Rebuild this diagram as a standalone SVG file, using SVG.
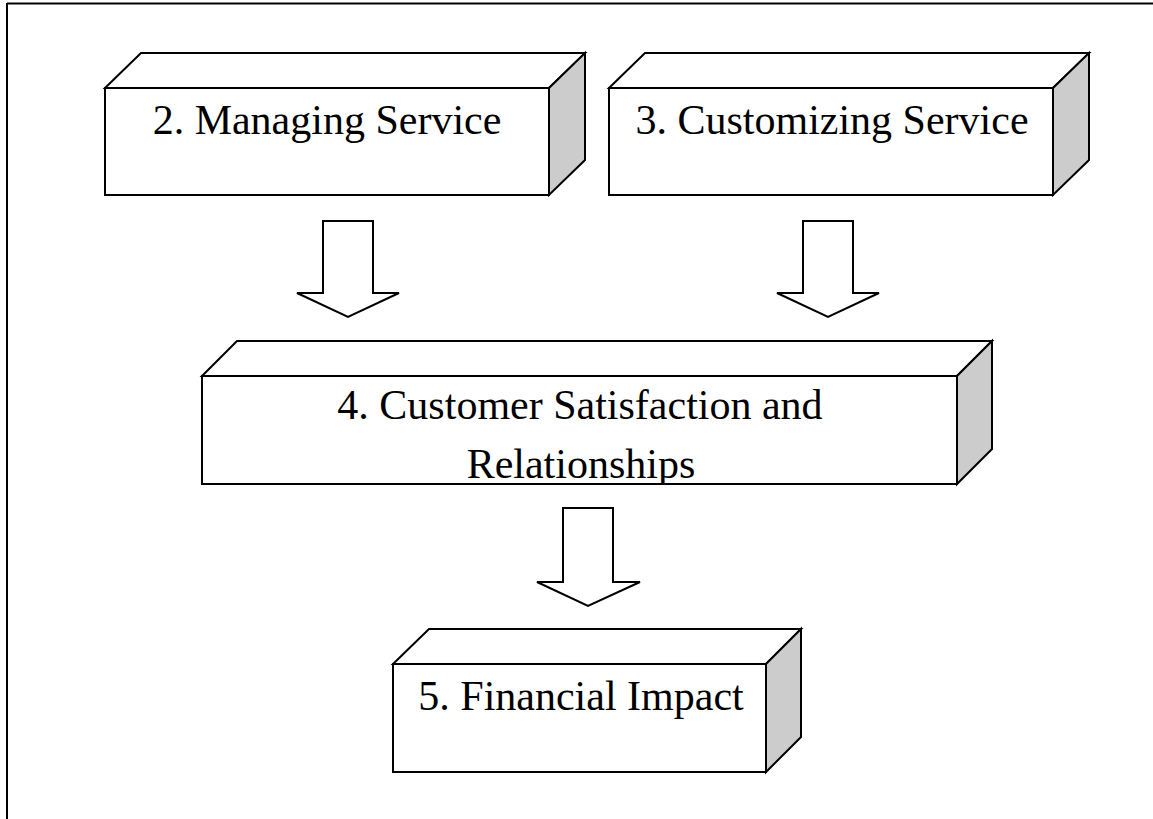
<svg xmlns="http://www.w3.org/2000/svg" width="1153" height="819" viewBox="0 0 1153 819">
<style>
.face{fill:#ffffff;stroke:#000000;stroke-width:2;stroke-linejoin:miter}
.side{fill:#cccccc;stroke:#000000;stroke-width:2;stroke-linejoin:miter}
.arrow{fill:#ffffff;stroke:#000000;stroke-width:2;stroke-linejoin:miter}
.lbl{font-family:"Liberation Serif","Times New Roman",serif;font-size:42px;fill:#000000;text-anchor:middle}
.frame{stroke:#000000;stroke-width:2;fill:none}
</style>
<rect x="0" y="0" width="1153" height="819" fill="#ffffff"/>
<g id="frame">
<line class="frame" x1="7" y1="3.5" x2="1153" y2="3.5" stroke="#333333"/>
<line class="frame" x1="7" y1="3" x2="7" y2="819"/>
</g>
<g id="node2">
<polygon class="face" points="105,88 141,53 585,53 549,88"/>
<polygon class="side" points="549,88 585,53 585,160 549,195"/>
<rect class="face" x="105" y="88" width="444" height="107"/>
<text class="lbl" x="327" y="134">2. Managing Service</text>
</g>
<g id="node3">
<polygon class="face" points="609,88 645,53 1089,53 1053,88"/>
<polygon class="side" points="1053,88 1089,53 1089,160 1053,195"/>
<rect class="face" x="609" y="88" width="444" height="107"/>
<text class="lbl" x="832" y="134">3. Customizing Service</text>
</g>
<g id="node4">
<polygon class="face" points="202,376 237,341 992,341 957,376"/>
<polygon class="side" points="957,376 992,341 992,449 957,484"/>
<rect class="face" x="202" y="376" width="755" height="108"/>
<svg x="202" y="376" width="755" height="108" overflow="hidden">
<text class="lbl" x="378" y="43">4. Customer Satisfaction and</text>
<text class="lbl" x="379" y="102">Relationships</text>
</svg>
<line x1="202" y1="484" x2="957" y2="484" stroke="#000" stroke-width="2"/>
</g>
<g id="node5">
<polygon class="face" points="393,664 429,629 801,629 766,664"/>
<polygon class="side" points="766,664 801,629 801,737 766,772"/>
<rect class="face" x="393" y="664" width="373" height="108"/>
<text class="lbl" x="581" y="710">5. Financial Impact</text>
</g>
<g id="connectors">
<polygon class="arrow" points="323,221 373,221 373,293 399,293 348,317 297,293 323,293"/>
<polygon class="arrow" points="803,221 853,221 853,293 879,293 828,317 777,293 803,293"/>
<polygon class="arrow" points="563,508 613,508 613,582 640,582 588,606 537,582 563,582"/>
</g>
</svg>
